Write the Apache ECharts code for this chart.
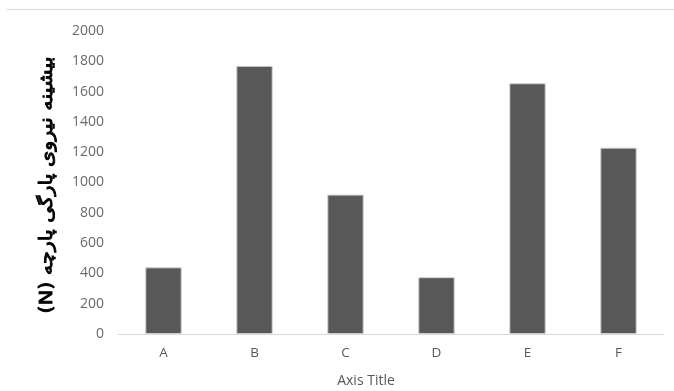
<!DOCTYPE html>
<html>
<head>
<meta charset="utf-8">
<script src="https://cdn.jsdelivr.net/npm/echarts@6/dist/echarts.min.js"></script>
<style>
  html, body { margin: 0; padding: 0; background: #ffffff; }
  #chart { width: 674px; height: 391px; }
</style>
</head>
<body>
<div id="chart"></div>
<script>
// Fabric samples and their maximum tearing force (N)
const categories = ['A', 'B', 'C', 'D', 'E', 'F'];
const tearForce = [440, 1770, 920, 375, 1655, 1230];
const yTicks = { min: 0, max: 2000, step: 200 };
const yAxisTitle = '\u202Bبیشینه نیروی پارگی پارچه (N)\u202C';
const xAxisTitle = 'Axis Title';

const labelFont = '"Open Sans", "Liberation Sans", sans-serif';

const chart = echarts.init(document.getElementById('chart'), null, { renderer: 'canvas' });

chart.setOption({
  backgroundColor: '#ffffff',
  animation: false,
  grid: { left: 118, right: 10, top: 31, bottom: 57, containLabel: false },
  xAxis: {
    type: 'category',
    data: categories,
    axisLine: { show: true, lineStyle: { color: '#d9d9d9', width: 1 } },
    axisTick: { show: false },
    axisLabel: { color: '#595959', fontSize: 13.5, fontFamily: labelFont, margin: 12 },
    splitLine: { show: false }
  },
  yAxis: {
    type: 'value',
    min: yTicks.min,
    max: yTicks.max,
    interval: yTicks.step,
    axisLine: { show: false },
    axisTick: { show: false },
    axisLabel: {
      color: '#6a6a6a',
      fontSize: 14,
      fontFamily: labelFont,
      margin: 14,
      formatter: (v) => String(v)
    },
    splitLine: { show: false }
  },
  graphic: [
    {
      type: 'line',
      shape: { x1: 7, y1: 9.5, x2: 674, y2: 9.5 },
      style: { stroke: '#d9d9d9', lineWidth: 1 },
      silent: true
    },
    {
      type: 'text',
      x: 47,
      y: 185,
      rotation: Math.PI / 2,
      scaleX: 1.15,
      style: {
        text: yAxisTitle,
        fill: '#000000',
        stroke: '#000000',
        lineWidth: 0.9,
        font: '18px "DejaVu Sans", sans-serif',
        textAlign: 'center',
        textVerticalAlign: 'middle'
      },
      silent: true
    },
    {
      type: 'text',
      x: 366,
      y: 381,
      style: {
        text: xAxisTitle,
        fill: '#595959',
        font: '14px ' + labelFont,
        textAlign: 'center',
        textVerticalAlign: 'middle'
      },
      silent: true
    }
  ],
  series: [
    {
      type: 'bar',
      data: tearForce,
      barWidth: '40%',
      itemStyle: { color: '#585858', borderColor: '#cfcfcf', borderWidth: 1 }
    }
  ]
});
</script>
</body>
</html>
